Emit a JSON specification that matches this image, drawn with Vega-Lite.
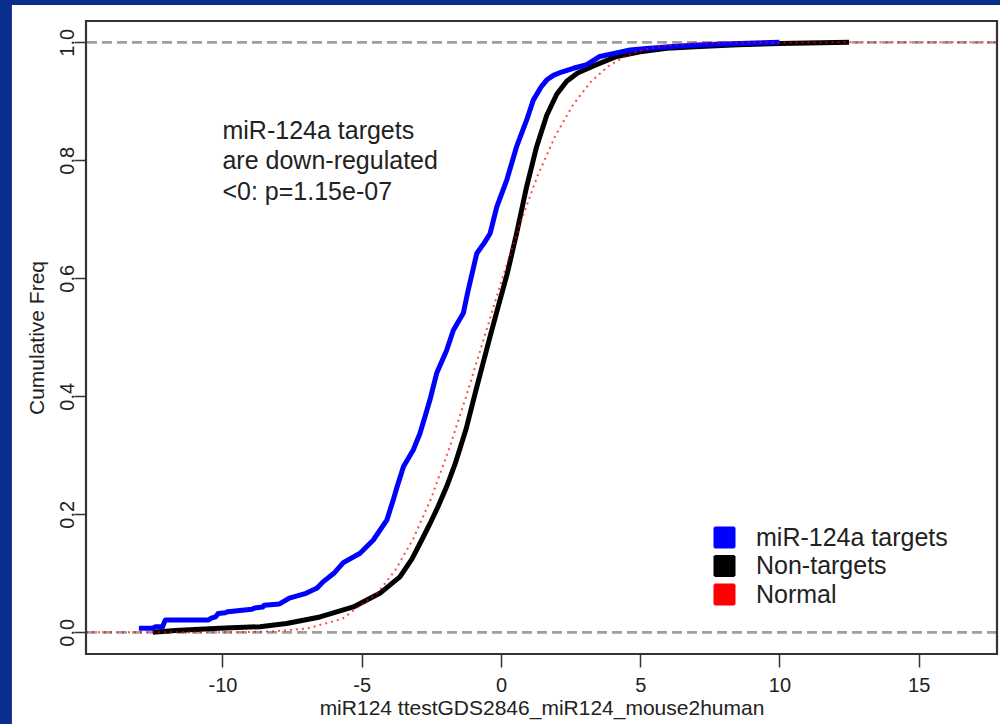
{
  "$schema": "https://vega.github.io/schema/vega-lite/v6.json",
  "width": 911,
  "height": 633,
  "autosize": {"type": "none"},
  "padding": {"left": 86, "top": 21, "right": 3, "bottom": 70},
  "background": "#0b2d8c",
  "config": {
    "view": {"stroke": null},
    "font": "Liberation Sans",
    "text": {"font": "Liberation Sans"}
  },
  "data": {"values": [{}]},
  "datasets": {
    "curves": [
      {"series": "miR-124a targets", "x": -13.0, "y": 0.0068},
      {"series": "miR-124a targets", "x": -12.5, "y": 0.0068},
      {"series": "miR-124a targets", "x": -12.4, "y": 0.0095},
      {"series": "miR-124a targets", "x": -12.15, "y": 0.0095},
      {"series": "miR-124a targets", "x": -12.05, "y": 0.021},
      {"series": "miR-124a targets", "x": -10.5, "y": 0.021},
      {"series": "miR-124a targets", "x": -10.4, "y": 0.024},
      {"series": "miR-124a targets", "x": -10.25, "y": 0.026},
      {"series": "miR-124a targets", "x": -10.15, "y": 0.032},
      {"series": "miR-124a targets", "x": -9.9, "y": 0.033},
      {"series": "miR-124a targets", "x": -9.8, "y": 0.035},
      {"series": "miR-124a targets", "x": -8.95, "y": 0.039},
      {"series": "miR-124a targets", "x": -8.85, "y": 0.041},
      {"series": "miR-124a targets", "x": -8.55, "y": 0.043},
      {"series": "miR-124a targets", "x": -8.5, "y": 0.046},
      {"series": "miR-124a targets", "x": -7.95, "y": 0.048},
      {"series": "miR-124a targets", "x": -7.6, "y": 0.058},
      {"series": "miR-124a targets", "x": -7.0, "y": 0.066},
      {"series": "miR-124a targets", "x": -6.6, "y": 0.075},
      {"series": "miR-124a targets", "x": -6.4, "y": 0.085},
      {"series": "miR-124a targets", "x": -6.0, "y": 0.100},
      {"series": "miR-124a targets", "x": -5.66, "y": 0.118},
      {"series": "miR-124a targets", "x": -5.06, "y": 0.134},
      {"series": "miR-124a targets", "x": -4.59, "y": 0.156},
      {"series": "miR-124a targets", "x": -4.1, "y": 0.190},
      {"series": "miR-124a targets", "x": -3.87, "y": 0.224},
      {"series": "miR-124a targets", "x": -3.74, "y": 0.245},
      {"series": "miR-124a targets", "x": -3.5, "y": 0.281},
      {"series": "miR-124a targets", "x": -3.15, "y": 0.309},
      {"series": "miR-124a targets", "x": -2.91, "y": 0.337},
      {"series": "miR-124a targets", "x": -2.7, "y": 0.370},
      {"series": "miR-124a targets", "x": -2.55, "y": 0.394},
      {"series": "miR-124a targets", "x": -2.31, "y": 0.439},
      {"series": "miR-124a targets", "x": -1.95, "y": 0.478},
      {"series": "miR-124a targets", "x": -1.71, "y": 0.512},
      {"series": "miR-124a targets", "x": -1.35, "y": 0.541},
      {"series": "miR-124a targets", "x": -1.2, "y": 0.575},
      {"series": "miR-124a targets", "x": -0.87, "y": 0.642},
      {"series": "miR-124a targets", "x": -0.6, "y": 0.660},
      {"series": "miR-124a targets", "x": -0.39, "y": 0.676},
      {"series": "miR-124a targets", "x": -0.15, "y": 0.721},
      {"series": "miR-124a targets", "x": 0.21, "y": 0.767},
      {"series": "miR-124a targets", "x": 0.56, "y": 0.823},
      {"series": "miR-124a targets", "x": 0.92, "y": 0.868},
      {"series": "miR-124a targets", "x": 1.16, "y": 0.902},
      {"series": "miR-124a targets", "x": 1.45, "y": 0.925},
      {"series": "miR-124a targets", "x": 1.64, "y": 0.936},
      {"series": "miR-124a targets", "x": 1.88, "y": 0.944},
      {"series": "miR-124a targets", "x": 2.2, "y": 0.950},
      {"series": "miR-124a targets", "x": 2.6, "y": 0.956},
      {"series": "miR-124a targets", "x": 3.08, "y": 0.962},
      {"series": "miR-124a targets", "x": 3.55, "y": 0.976},
      {"series": "miR-124a targets", "x": 4.15, "y": 0.982},
      {"series": "miR-124a targets", "x": 4.63, "y": 0.987},
      {"series": "miR-124a targets", "x": 5.35, "y": 0.990},
      {"series": "miR-124a targets", "x": 6.19, "y": 0.993},
      {"series": "miR-124a targets", "x": 6.9, "y": 0.995},
      {"series": "miR-124a targets", "x": 8.0, "y": 0.997},
      {"series": "miR-124a targets", "x": 10.0, "y": 1.0},

      {"series": "Non-targets", "x": -12.5, "y": 0.0},
      {"series": "Non-targets", "x": -11.7, "y": 0.003},
      {"series": "Non-targets", "x": -10.1, "y": 0.007},
      {"series": "Non-targets", "x": -8.65, "y": 0.0095},
      {"series": "Non-targets", "x": -7.7, "y": 0.015},
      {"series": "Non-targets", "x": -6.5, "y": 0.026},
      {"series": "Non-targets", "x": -5.3, "y": 0.043},
      {"series": "Non-targets", "x": -4.35, "y": 0.066},
      {"series": "Non-targets", "x": -3.63, "y": 0.094},
      {"series": "Non-targets", "x": -3.2, "y": 0.124},
      {"series": "Non-targets", "x": -2.85, "y": 0.156},
      {"series": "Non-targets", "x": -2.55, "y": 0.184},
      {"series": "Non-targets", "x": -2.25, "y": 0.214},
      {"series": "Non-targets", "x": -1.95, "y": 0.247},
      {"series": "Non-targets", "x": -1.65, "y": 0.285},
      {"series": "Non-targets", "x": -1.25, "y": 0.345},
      {"series": "Non-targets", "x": -0.9, "y": 0.410},
      {"series": "Non-targets", "x": -0.4, "y": 0.500},
      {"series": "Non-targets", "x": -0.1, "y": 0.552},
      {"series": "Non-targets", "x": 0.22, "y": 0.607},
      {"series": "Non-targets", "x": 0.56, "y": 0.676},
      {"series": "Non-targets", "x": 0.92, "y": 0.755},
      {"series": "Non-targets", "x": 1.28, "y": 0.823},
      {"series": "Non-targets", "x": 1.64, "y": 0.876},
      {"series": "Non-targets", "x": 2.0, "y": 0.912},
      {"series": "Non-targets", "x": 2.36, "y": 0.934},
      {"series": "Non-targets", "x": 2.75, "y": 0.948},
      {"series": "Non-targets", "x": 3.32, "y": 0.960},
      {"series": "Non-targets", "x": 4.15, "y": 0.976},
      {"series": "Non-targets", "x": 5.0, "y": 0.984},
      {"series": "Non-targets", "x": 5.95, "y": 0.990},
      {"series": "Non-targets", "x": 7.15, "y": 0.993},
      {"series": "Non-targets", "x": 8.5, "y": 0.996},
      {"series": "Non-targets", "x": 10.0, "y": 0.998},
      {"series": "Non-targets", "x": 12.5, "y": 1.0},

      {"series": "Normal", "x": -14.9, "y": 0.0},
      {"series": "Normal", "x": -12.0, "y": 0.0},
      {"series": "Normal", "x": -9.53, "y": 0.0002},
      {"series": "Normal", "x": -8.25, "y": 0.0013},
      {"series": "Normal", "x": -6.98, "y": 0.0062},
      {"series": "Normal", "x": -5.70, "y": 0.0228},
      {"series": "Normal", "x": -4.43, "y": 0.0668},
      {"series": "Normal", "x": -3.79, "y": 0.1056},
      {"series": "Normal", "x": -3.15, "y": 0.1587},
      {"series": "Normal", "x": -2.51, "y": 0.2266},
      {"series": "Normal", "x": -1.88, "y": 0.3085},
      {"series": "Normal", "x": -1.24, "y": 0.4013},
      {"series": "Normal", "x": -0.60, "y": 0.5},
      {"series": "Normal", "x": 0.04, "y": 0.5987},
      {"series": "Normal", "x": 0.68, "y": 0.6915},
      {"series": "Normal", "x": 1.31, "y": 0.7734},
      {"series": "Normal", "x": 1.95, "y": 0.8413},
      {"series": "Normal", "x": 2.59, "y": 0.8944},
      {"series": "Normal", "x": 3.23, "y": 0.9332},
      {"series": "Normal", "x": 3.86, "y": 0.9599},
      {"series": "Normal", "x": 4.50, "y": 0.9772},
      {"series": "Normal", "x": 5.14, "y": 0.9878},
      {"series": "Normal", "x": 5.78, "y": 0.9938},
      {"series": "Normal", "x": 7.05, "y": 0.9987},
      {"series": "Normal", "x": 8.33, "y": 0.9998},
      {"series": "Normal", "x": 17.8, "y": 1.0}
    ]
  },
  "layer": [
    {
      "mark": {"type": "rect", "fill": "#ffffff"},
      "encoding": {
        "x": {
          "datum": -17.56,
          "type": "quantitative",
          "title": "miR124 ttestGDS2846_miR124_mouse2human",
          "scale": {"domain": [-14.9, 17.81], "nice": false, "zero": false},
          "axis": {
            "values": [-10, -5, 0, 5, 10, 15],
            "labelExpr": "replace(datum.label, '\u2212', '-')",
            "domain": false,
            "grid": false,
            "tickSize": 13,
            "tickWidth": 1.5,
            "tickColor": "#333333",
            "labelFontSize": 20,
            "labelColor": "#222222",
            "labelPadding": 8,
            "labelFlush": false,
            "labelOverlap": false,
            "titleFontSize": 21,
            "titleFontWeight": "normal",
            "titleColor": "#222222",
            "titlePadding": 2,
            "zindex": 1
          }
        },
        "x2": {"datum": 25},
        "y": {
          "datum": -0.3,
          "type": "quantitative",
          "title": "Cumulative Freq",
          "scale": {"domain": [-0.0368, 1.0361], "nice": false, "zero": false},
          "axis": {
            "values": [0, 0.2, 0.4, 0.6, 0.8, 1],
            "format": ".1f",
            "domain": false,
            "grid": false,
            "tickSize": 12,
            "tickWidth": 1.5,
            "tickColor": "#333333",
            "labelAngle": 270,
            "labelAlign": "center",
            "labelBaseline": "alphabetic",
            "labelFontSize": 20,
            "labelColor": "#222222",
            "labelPadding": 1,
            "labelFlush": false,
            "labelOverlap": false,
            "titleFontSize": 21,
            "titleFontWeight": "normal",
            "titleColor": "#222222",
            "titlePadding": 10,
            "zindex": 1
          }
        },
        "y2": {"datum": 1.0632}
      }
    },
    {
      "mark": {"type": "rule", "color": "#a0a0a0", "strokeWidth": 2.8, "strokeDash": [10, 5]},
      "encoding": {
        "y": {"datum": 0, "type": "quantitative", "title": "Cumulative Freq"}
      }
    },
    {
      "mark": {"type": "rule", "color": "#a0a0a0", "strokeWidth": 2.8, "strokeDash": [10, 5]},
      "encoding": {
        "y": {"datum": 1, "type": "quantitative", "title": "Cumulative Freq"}
      }
    },
    {
      "data": {"name": "curves"},
      "transform": [{"filter": "datum.series === 'Non-targets'"}],
      "mark": {"type": "line", "strokeWidth": 5, "strokeJoin": "round"},
      "encoding": {
        "x": {"field": "x", "type": "quantitative", "title": "miR124 ttestGDS2846_miR124_mouse2human"},
        "y": {"field": "y", "type": "quantitative", "title": "Cumulative Freq"},
        "color": {
          "field": "series",
          "type": "nominal",
          "scale": {
            "domain": ["miR-124a targets", "Non-targets", "Normal"],
            "range": ["#0000ff", "#000000", "#ff0000"]
          },
          "legend": {
            "title": null,
            "orient": "none",
            "legendX": 626,
            "legendY": 504,
            "padding": 0,
            "symbolType": "square",
            "symbolSize": 400,
            "symbolStrokeWidth": 2,
            "symbolStrokeColor": "#000000",
            "labelFontSize": 25,
            "labelFont": "Liberation Sans",
            "labelColor": "#222222",
            "labelLimit": 400,
            "labelOffset": 19,
            "rowPadding": -0.5,
            "encode": {
              "symbols": {
                "update": {
                  "fill": {"scale": "color", "field": "value"},
                  "stroke": {"value": "#000000"},
                  "strokeDash": {"value": [1, 0]},
                  "opacity": {"value": 1},
                  "fillOpacity": {"value": 1}
                }
              }
            }
          }
        }
      }
    },
    {
      "data": {"name": "curves"},
      "transform": [{"filter": "datum.series === 'miR-124a targets'"}],
      "mark": {"type": "line", "strokeWidth": 5, "strokeJoin": "round"},
      "encoding": {
        "x": {"field": "x", "type": "quantitative", "title": "miR124 ttestGDS2846_miR124_mouse2human"},
        "y": {"field": "y", "type": "quantitative", "title": "Cumulative Freq"},
        "color": {"field": "series", "type": "nominal"}
      }
    },
    {
      "data": {"name": "curves"},
      "transform": [{"filter": "datum.series === 'Normal'"}],
      "mark": {"type": "line", "strokeWidth": 2, "strokeDash": [2, 4], "opacity": 0.7},
      "encoding": {
        "x": {"field": "x", "type": "quantitative", "title": "miR124 ttestGDS2846_miR124_mouse2human"},
        "y": {"field": "y", "type": "quantitative", "title": "Cumulative Freq"},
        "color": {"field": "series", "type": "nominal"}
      }
    },
    {
      "mark": {
        "type": "text",
        "text": ["miR-124a targets", "are down-regulated", "<0: p=1.15e-07"],
        "align": "left",
        "baseline": "middle",
        "lineHeight": 30.5,
        "fontSize": 25,
        "color": "#222222"
      },
      "encoding": {
        "x": {"datum": -10, "type": "quantitative", "title": "miR124 ttestGDS2846_miR124_mouse2human"},
        "y": {"datum": 0.85, "type": "quantitative", "title": "Cumulative Freq"}
      }
    },
    {
      "mark": {"type": "rect", "filled": false, "stroke": "#333333", "strokeWidth": 2.2},
      "encoding": {
        "x": {"datum": -14.9, "type": "quantitative", "title": "miR124 ttestGDS2846_miR124_mouse2human"},
        "x2": {"datum": 17.81},
        "y": {"datum": -0.0368, "type": "quantitative", "title": "Cumulative Freq"},
        "y2": {"datum": 1.0361}
      }
    }
  ]
}
